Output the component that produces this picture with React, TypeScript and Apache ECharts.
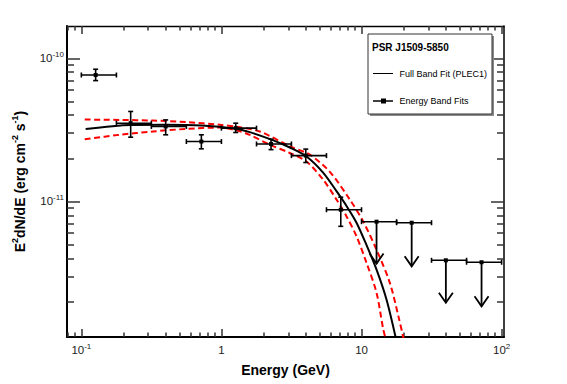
import React, { useEffect, useRef } from 'react';
import * as echarts from 'echarts';

const FONT = 'Liberation Sans, Arial, Helvetica, sans-serif';

const X_MIN = 0.079;
const X_MAX = 104;
const Y_MIN = 1.13e-12;
const Y_MAX = 1.68e-10;

// Energy band fits (detections)
const binLo = [0.1, 0.178, 0.316, 0.562, 1.0, 1.78, 3.16, 5.62];
const binHi = [0.178, 0.316, 0.562, 1.0, 1.78, 3.16, 5.62, 10];
const pointE = [0.1265, 0.225, 0.4, 0.719, 1.265, 2.26, 4.0, 7.11];
const pointF = [7.64e-11, 3.52e-11, 3.34e-11, 2.62e-11, 3.25e-11, 2.52e-11, 2.09e-11, 8.75e-12];
const errLo = [6.98e-11, 2.81e-11, 2.92e-11, 2.33e-11, 3.03e-11, 2.3e-11, 1.87e-11, 6.7e-12];
const errHi = [8.38e-11, 4.25e-11, 3.71e-11, 2.92e-11, 3.52e-11, 2.72e-11, 2.32e-11, 1.07e-11];

// Upper limits
const ulLo = [10, 17.8, 31.6, 56.2];
const ulHi = [17.8, 31.6, 56.2, 100];
const ulE = [12.8, 22.8, 40.0, 71.9];
const ulF = [7.22e-12, 7.1e-12, 3.88e-12, 3.76e-12];
const ulTip = [3.68e-12, 3.52e-12, 1.96e-12, 1.85e-12];

// Full band fit (PLEC1)
const fitE = [0.1073, 0.225, 0.4, 0.72, 1.265, 1.592, 2.276, 3.075, 4.047, 5.318, 6.628, 7.815, 9.21, 10.86, 12.8, 15.09, 17.5];
const fitF = [3.2e-11, 3.42e-11, 3.43e-11, 3.39e-11, 3.22e-11, 3.05e-11, 2.7e-11, 2.38e-11, 2.06e-11, 1.59e-11, 1.18e-11, 9.3e-12, 7.1e-12, 4.95e-12, 3.34e-12, 2.06e-12, 1.13e-12];

// Butterfly bounds
const upE = [0.1057, 0.1877, 0.3246, 0.5623, 0.9725, 1.28, 1.877, 3.075, 4.273, 5.937, 8.25, 10.27, 12.8, 15.93, 18.56, 20.38];
const upF = [3.73e-11, 3.71e-11, 3.67e-11, 3.58e-11, 3.43e-11, 3.32e-11, 3.08e-11, 2.43e-11, 2.12e-11, 1.61e-11, 1.03e-11, 7.25e-12, 4.6e-12, 2.7e-12, 1.5e-12, 1.0e-12];
const lowE = [0.1057, 0.1877, 0.3246, 0.5623, 0.9725, 1.28, 1.592, 2.213, 3.075, 4.047, 5.318, 6.628, 7.815, 9.21, 10.86, 12.8, 14.27, 14.91];
const lowF = [2.72e-11, 2.92e-11, 3.08e-11, 3.21e-11, 3.28e-11, 3.14e-11, 2.92e-11, 2.49e-11, 2.18e-11, 1.9e-11, 1.42e-11, 1.03e-11, 7.86e-12, 5.7e-12, 3.72e-12, 2.3e-12, 1.29e-12, 1.085e-12];

// Tick values
const xMajorTicks = [0.1, 1, 10, 100];
const yMajorTicks = [1e-11, 1e-10];
const xMinorTicks = [0.08, 0.09, 0.2, 0.3, 0.4, 0.5, 0.6, 0.7, 0.8, 0.9, 2, 3, 4, 5, 6, 7, 8, 9, 20, 30, 40, 50, 60, 70, 80, 90];
const yMinorTicks = [2e-12, 3e-12, 4e-12, 5e-12, 6e-12, 7e-12, 8e-12, 9e-12, 2e-11, 3e-11, 4e-11, 5e-11, 6e-11, 7e-11, 8e-11, 9e-11];

const powLabel = (v: number, isX: boolean) => {
  const e = Math.log10(v);
  const r = Math.round(e);
  if (Math.abs(e - r) > 1e-6) return '';
  if (isX && r === 0) return '{b|1}';
  if (isX && r === 1) return '{b|10}';
  return `{b|10}{s|${r}}`;
};

const labelRich = {
  b: { fontSize: 11.5, color: '#222', fontFamily: FONT, lineHeight: 14 },
  s: { fontSize: 8, color: '#222', fontFamily: FONT, lineHeight: 8, padding: [0, 0, 8, 0] },
};

const TICK_COLOR = '#333';
const TICK_W = 1.5;

const tickAxis = (kind: 'x' | 'y', position: string, values: number[], length: number, lineWidth = 0) => ({
  type: 'log',
  min: kind === 'x' ? X_MIN : Y_MIN,
  max: kind === 'x' ? X_MAX : Y_MAX,
  position,
  axisLine: { show: lineWidth > 0, onZero: false, lineStyle: { color: '#000', width: lineWidth || 1 } },
  axisTick: { show: true, inside: true, length, customValues: values, lineStyle: { color: TICK_COLOR, width: TICK_W } },
  axisLabel: { show: false },
  splitLine: { show: false },
});

export default function App() {
  const ref = useRef<HTMLDivElement>(null);
  useEffect(() => {
    const chart = echarts.init(ref.current!, undefined, { renderer: 'svg' });

    const errData = pointE.map((e, i) => [e, pointF[i], binLo[i], binHi[i], errLo[i], errHi[i]]);
    const ulData = ulE.map((e, i) => [e, ulF[i], ulLo[i], ulHi[i], ulTip[i]]);
    const lineStyleK = { stroke: '#000', lineWidth: 1.6 };

    const option: any = {
      animation: false,
      backgroundColor: '#fff',
      grid: { left: 67, right: 63, top: 26, bottom: 47, containLabel: false, outerBoundsMode: 'none' },
      xAxis: [
        {
          type: 'log', min: X_MIN, max: X_MAX, position: 'bottom',
          name: 'Energy (GeV)', nameLocation: 'middle', nameGap: 22,
          nameTextStyle: { fontFamily: FONT, fontWeight: 'bold', fontSize: 14, color: '#000' },
          axisLine: { show: true, onZero: false, lineStyle: { color: '#000', width: 2 } },
          axisTick: { show: true, inside: true, length: 8, customValues: xMajorTicks, lineStyle: { color: TICK_COLOR, width: TICK_W } },
          axisLabel: { margin: 6, customValues: xMajorTicks, formatter: (v: number) => powLabel(v, true), rich: labelRich },
          splitLine: { show: false },
        },
        tickAxis('x', 'top', xMajorTicks, 8, 1.3),
        tickAxis('x', 'bottom', xMinorTicks, 4.5),
        tickAxis('x', 'top', xMinorTicks, 4.5),
      ],
      yAxis: [
        {
          type: 'log', min: Y_MIN, max: Y_MAX, position: 'left',
          name: '{t|E}{ts|2}{t|dN/dE (erg cm}{ts|-2}{t| s}{ts|-1}{t|)}',
          nameLocation: 'middle', nameGap: 33, nameRotate: 90,
          nameTextStyle: {
            rich: {
              t: { fontFamily: FONT, fontWeight: 'bold', fontSize: 14, color: '#000', lineHeight: 16 },
              ts: { fontFamily: FONT, fontWeight: 'bold', fontSize: 9, color: '#000', lineHeight: 9, padding: [0, 0, 9, 0] },
            },
          },
          axisLine: { show: true, onZero: false, lineStyle: { color: '#000', width: 2 } },
          axisTick: { show: true, inside: true, length: 13, customValues: yMajorTicks, lineStyle: { color: TICK_COLOR, width: TICK_W } },
          axisLabel: { margin: 3, customValues: yMajorTicks, formatter: (v: number) => powLabel(v, false), rich: labelRich },
          splitLine: { show: false },
        },
        tickAxis('y', 'right', yMajorTicks, 13, 1.5),
        tickAxis('y', 'left', yMinorTicks, 7),
        tickAxis('y', 'right', yMinorTicks, 7),
      ],
      series: [
        { type: 'line', name: 'upper', data: upE.map((e, i) => [e, upF[i]]), symbol: 'none', smooth: 0.3, clip: true, z: 3, lineStyle: { color: '#ff0000', width: 2, type: [6, 3.5] } },
        { type: 'line', name: 'lower', data: lowE.map((e, i) => [e, lowF[i]]), symbol: 'none', smooth: 0.3, clip: true, z: 3, lineStyle: { color: '#ff0000', width: 2, type: [6, 3.5] } },
        { type: 'line', name: 'Full Band Fit (PLEC1)', data: fitE.map((e, i) => [e, fitF[i]]), symbol: 'none', smooth: 0.3, clip: true, z: 4, lineStyle: { color: '#000', width: 2 } },
        {
          type: 'custom', name: 'Energy Band Fits', z: 5, silent: true,
          data: errData, encode: { x: 0, y: 1 },
          renderItem: (_p: any, api: any) => {
            const x = api.value(0), y = api.value(1);
            const c = api.coord([x, y]);
            const pl = api.coord([api.value(2), y]);
            const ph = api.coord([api.value(3), y]);
            const yl = api.coord([x, api.value(4)]);
            const yh = api.coord([x, api.value(5)]);
            const cap = 2.5;
            return {
              type: 'group',
              children: [
                { type: 'line', shape: { x1: pl[0], y1: c[1], x2: ph[0], y2: c[1] }, style: lineStyleK },
                { type: 'line', shape: { x1: pl[0], y1: c[1] - cap, x2: pl[0], y2: c[1] + cap }, style: lineStyleK },
                { type: 'line', shape: { x1: ph[0], y1: c[1] - cap, x2: ph[0], y2: c[1] + cap }, style: lineStyleK },
                { type: 'line', shape: { x1: c[0], y1: yl[1], x2: c[0], y2: yh[1] }, style: lineStyleK },
                { type: 'line', shape: { x1: c[0] - cap, y1: yl[1], x2: c[0] + cap, y2: yl[1] }, style: lineStyleK },
                { type: 'line', shape: { x1: c[0] - cap, y1: yh[1], x2: c[0] + cap, y2: yh[1] }, style: lineStyleK },
                { type: 'rect', shape: { x: c[0] - 2, y: c[1] - 2, width: 4, height: 4 }, style: { fill: '#000' } },
              ],
            };
          },
        },
        {
          type: 'custom', name: 'Upper limits', z: 5, silent: true,
          data: ulData, encode: { x: 0, y: 1 },
          renderItem: (_p: any, api: any) => {
            const x = api.value(0), y = api.value(1);
            const c = api.coord([x, y]);
            const pl = api.coord([api.value(2), y]);
            const ph = api.coord([api.value(3), y]);
            const tip = api.coord([x, api.value(4)]);
            const cap = 2.5;
            return {
              type: 'group',
              children: [
                { type: 'line', shape: { x1: pl[0], y1: c[1], x2: ph[0], y2: c[1] }, style: lineStyleK },
                { type: 'line', shape: { x1: pl[0], y1: c[1] - cap, x2: pl[0], y2: c[1] + cap }, style: lineStyleK },
                { type: 'line', shape: { x1: ph[0], y1: c[1] - cap, x2: ph[0], y2: c[1] + cap }, style: lineStyleK },
                { type: 'line', shape: { x1: c[0], y1: c[1], x2: tip[0], y2: tip[1] }, style: { stroke: '#000', lineWidth: 1.8 } },
                { type: 'polyline', shape: { points: [[tip[0] - 7, tip[1] - 10], [tip[0], tip[1]], [tip[0] + 7, tip[1] - 10]] }, style: { stroke: '#000', lineWidth: 1.8, fill: 'none' } },
                { type: 'rect', shape: { x: c[0] - 2, y: c[1] - 2, width: 4, height: 4 }, style: { fill: '#000' } },
              ],
            };
          },
        },
      ],
      graphic: [
        { type: 'rect', silent: true, shape: { x: 370, y: 36, width: 124, height: 80 }, style: { fill: '#8a8a8a' }, z: 10 },
        { type: 'rect', silent: true, shape: { x: 368, y: 34, width: 124, height: 80 }, style: { fill: '#fff', stroke: '#333', lineWidth: 1 }, z: 11 },
        { type: 'text', silent: true, x: 372, y: 47, z: 12, style: { text: 'PSR J1509-5850', fontFamily: FONT, fontWeight: 'bold', fontSize: 10, fill: '#000', verticalAlign: 'middle', align: 'left' } },
        { type: 'line', silent: true, z: 12, shape: { x1: 373, y1: 73.5, x2: 393, y2: 73.5 }, style: { stroke: '#000', lineWidth: 1 } },
        { type: 'text', silent: true, x: 399.5, y: 73.5, z: 12, style: { text: 'Full Band Fit (PLEC1)', fontFamily: FONT, fontSize: 9, fill: '#000', verticalAlign: 'middle', align: 'left' } },
        { type: 'line', silent: true, z: 12, shape: { x1: 373, y1: 101, x2: 393, y2: 101 }, style: { stroke: '#000', lineWidth: 1.5 } },
        { type: 'rect', silent: true, z: 13, shape: { x: 381, y: 98.5, width: 5, height: 5 }, style: { fill: '#000' } },
        { type: 'text', silent: true, x: 399.5, y: 101, z: 12, style: { text: 'Energy Band Fits', fontFamily: FONT, fontSize: 9, fill: '#000', verticalAlign: 'middle', align: 'left' } },
      ],
    };

    chart.setOption(option);
    return () => chart.dispose();
  }, []);

  return <div ref={ref} style={{ position: 'fixed', left: 0, top: 0, width: 567, height: 384, background: '#fff' }} />;
}
